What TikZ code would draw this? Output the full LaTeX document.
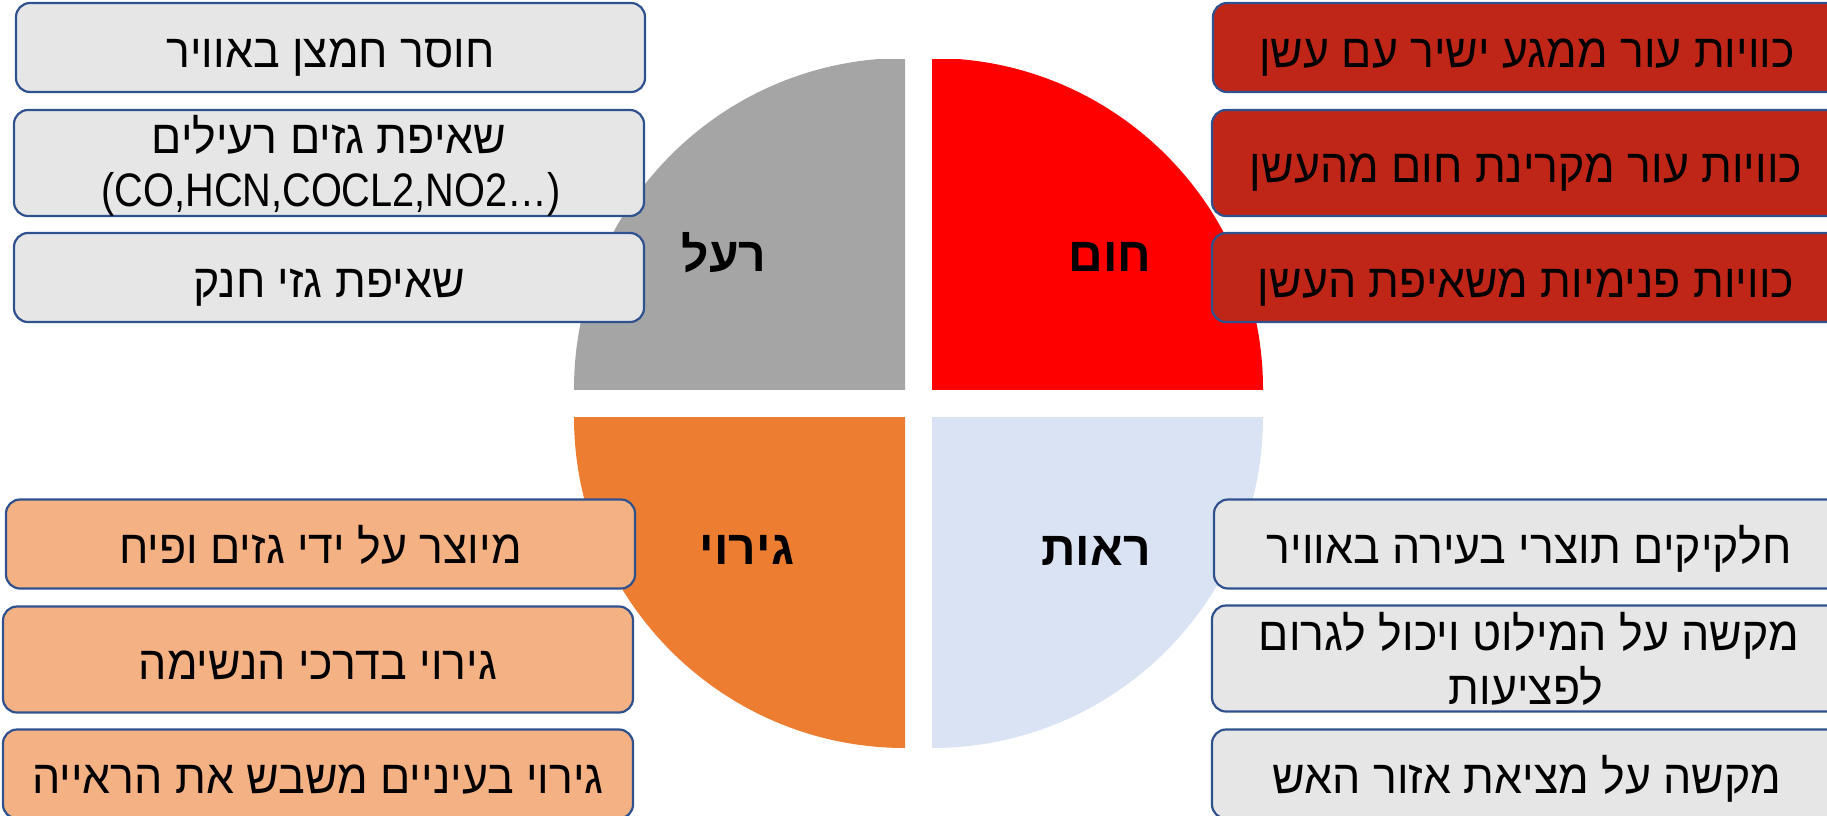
\documentclass[tikz,border=0pt]{standalone}
\usepackage{fontspec}
\setmainfont{Liberation Sans}
\newfontfamily\hebfont[Script=Hebrew, FakeStretch=0.95]{Liberation Sans}
\newfontfamily\hebbold[Script=Hebrew]{Liberation Sans}
\newfontfamily\latnarrow[FakeStretch=0.845]{Liberation Sans}
\TeXXeTstate=1
\definecolor{qgray}{HTML}{A5A5A5}
\definecolor{qred}{HTML}{FF0000}
\definecolor{qorange}{HTML}{ED7D31}
\definecolor{qblue}{HTML}{DAE3F3}
\definecolor{boxline}{HTML}{2F528F}
\definecolor{boxgray}{HTML}{E7E6E6}
\definecolor{boxred}{HTML}{BF2618}
\definecolor{boxorange}{HTML}{F4B183}
\newcommand{\heb}[1]{\beginR #1\endR}
\begin{document}
\begin{tikzpicture}[x=1pt,y=-1pt,
  box/.style={draw=boxline, line width=2.2pt, rounded corners=14pt,
    minimum height=89pt, align=center, inner sep=0pt, text=black,
    text height=39pt, text depth=0pt,
    font=\hebfont\fontsize{47}{53}\selectfont},
  tallbox/.style={box, minimum height=106pt},
  graybox/.style={box, fill=boxgray},
  redbox/.style={box, fill=boxred},
  orangebox/.style={box, fill=boxorange},
  linetext/.style={anchor=base, inner sep=0pt, text=black, font=\hebfont\fontsize{47}{53}\selectfont},
  qlabel/.style={anchor=base, font=\hebbold\bfseries\fontsize{48}{52}\selectfont, inner sep=0pt, text=black}]
\useasboundingbox (0,0) rectangle (1827,815);
\clip (0,0) rectangle (1827,815);
% quadrants
\begin{scope}
  \clip (574,59) rectangle (905,389);
  \fill[qgray] (905,389) circle[radius=331];
\end{scope}
\begin{scope}
  \clip (932,59) rectangle (1263,389);
  \fill[qred] (932,389) circle[radius=331];
\end{scope}
\begin{scope}
  \clip (574,417) rectangle (905,747);
  \fill[qorange] (905,417) circle[radius=331];
\end{scope}
\begin{scope}
  \clip (932,417) rectangle (1263,747);
  \fill[qblue] (932,417) circle[radius=331];
\end{scope}
% quadrant labels
\node[qlabel] (lpoison) at (724,271) {\heb{רעל}};
\node[qlabel] (lheat) at (1110,271) {\heb{חום}};
\node[qlabel] (lirr) at (747,564) {\heb{גירוי}};
\node[qlabel] (lvis) at (1096,565) {\heb{ראות}};
% left top boxes
\node[graybox, minimum width=629pt] (p1) at (330.5,47.5) {\heb{חוסר חמצן באוויר}};
\node[graybox, tallbox, minimum width=630pt] (p2) at (329,163) {};
\node[linetext] (p2a) at (329,153) {\heb{שאיפת גזים רעילים}};
\node[linetext, font=\latnarrow\fontsize{47}{53}\selectfont] (p2b) at (331,206) {(CO,HCN,COCL2,NO2…)};
\node[graybox, minimum width=630pt] (p3) at (329,277.5) {\heb{שאיפת גזי חנק}};
% right top boxes
\node[redbox, minimum width=628pt] (h1) at (1527,47.5) {\heb{כוויות עור ממגע ישיר עם עשן}};
\node[redbox, tallbox, minimum width=628pt] (h2) at (1526,163) {\heb{כוויות עור מקרינת חום מהעשן}};
\node[redbox, minimum width=628pt] (h3) at (1526,277.5) {\heb{כוויות פנימיות משאיפת העשן}};
% left bottom boxes
\node[orangebox, minimum width=629pt] (i1) at (320.5,544) {\heb{מיוצר על ידי גזים ופיח}};
\node[orangebox, tallbox, minimum width=630pt] (i2) at (318,659.5) {\heb{גירוי בדרכי הנשימה}};
\node[orangebox, minimum width=630pt] (i3) at (318,774) {\heb{גירוי בעיניים משבש את הראייה}};
% right bottom boxes
\node[graybox, minimum width=630pt] (v1) at (1529,544) {\heb{חלקיקים תוצרי בעירה באוויר}};
\node[graybox, tallbox, minimum width=630pt] (v2) at (1527,658.5) {};
\node[linetext] (v2a) at (1529,650) {\heb{מקשה על המילוט ויכול לגרום}};
\node[linetext] (v2b) at (1526,704) {\heb{לפציעות}};
\node[graybox, minimum width=630pt] (v3) at (1527,774) {\heb{מקשה על מציאת אזור האש}};
\end{tikzpicture}
\end{document}
